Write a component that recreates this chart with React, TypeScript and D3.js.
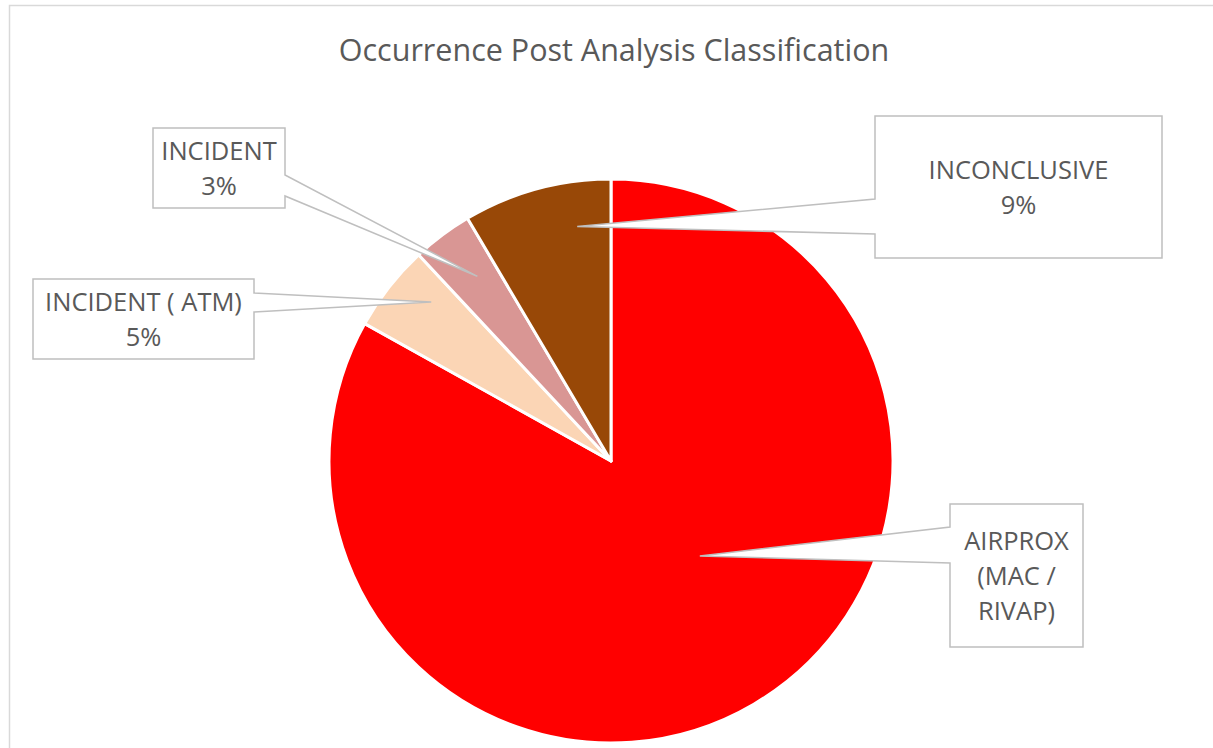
import React from "react";
import * as d3 from "d3";

const categories = ["AIRPROX (MAC / RIVAP)", "INCIDENT ( ATM)", "INCIDENT", "INCONCLUSIVE"];
const values = [83.1, 4.95, 3.45, 8.5];
const colors = ["#FF0000", "#FBD5B5", "#D99694", "#984807"];
const labelLines = [["AIRPROX", "(MAC /", "RIVAP)"], ["INCIDENT ( ATM)"], ["INCIDENT"], ["INCONCLUSIVE"]];
const showPercent = [false, true, true, true];
const title = "Occurrence Post Analysis Classification";

const W = 1213;
const H = 748;
const CX = 611;
const CY = 461;
const R = 282;
const FONT = "'Open Sans', sans-serif";
const TEXT = "#595959";
const LINE_H = 35;
const LABEL_FS = 25.5;

// callout layout: box, gap side & range, tip as polar (deg, radius)
const callouts = [
  { x: 950, y: 504, w: 133, h: 143, side: "left", g0: 527, g1: 563, ta: 136.9, tr: 130 },
  { x: 33, y: 279, w: 221, h: 80, side: "right", g0: 293, g1: 312, ta: 311.5, tr: 240 },
  { x: 153, y: 128, w: 132, h: 80, side: "right", g0: 175, g1: 196, ta: 324.1, tr: 228 },
  { x: 875, y: 116, w: 287, h: 142, side: "left", g0: 199, g1: 234, ta: 351.8, tr: 237 },
];

export default function App() {
  const total = d3.sum(values);
  const pie = d3.pie<number>().sort(null).value((d) => d)(values);
  const arc = d3.arc<d3.PieArcDatum<number>>().innerRadius(0).outerRadius(R);

  return (
    <svg width={W} height={H} style={{ position: "absolute", left: 0, top: 0, background: "#fff" }}>
      <rect x={9.5} y={5.5} width={W + 20} height={H + 20} fill="#fff" stroke="#d9d9d9" strokeWidth={1.5} />
      <text x={614} y={61} textAnchor="middle" fontFamily={FONT} fontSize={30.5} fill={TEXT}>
        {title}
      </text>
      <g transform={`translate(${CX},${CY})`}>
        {pie.map((p, i) => (
          <path key={i} d={arc(p) || ""} fill={colors[i]} stroke="#fff" strokeWidth={3} strokeLinejoin="round" />
        ))}
      </g>
      {callouts.map((c, i) => {
        const a = (c.ta * Math.PI) / 180;
        const tx = CX + c.tr * Math.sin(a);
        const ty = CY - c.tr * Math.cos(a);
        let d: string;
        if (c.side === "left") {
          d = `M${c.x},${c.y}H${c.x + c.w}V${c.y + c.h}H${c.x}V${c.g1}L${tx},${ty}L${c.x},${c.g0}Z`;
        } else {
          d = `M${c.x},${c.y}H${c.x + c.w}V${c.g0}L${tx},${ty}L${c.x + c.w},${c.g1}V${c.y + c.h}H${c.x}Z`;
        }
        const lines = [...labelLines[i]];
        if (showPercent[i]) lines.push(`${Math.round((values[i] / total) * 100)}%`);
        const cxText = c.x + c.w / 2;
        const cyText = c.y + c.h / 2;
        return (
          <g key={categories[i]}>
            <path d={d} fill="#fff" stroke="#bfbfbf" strokeWidth={1.5} strokeLinejoin="miter" />
            {lines.map((t, j) => (
              <text
                key={j}
                x={cxText}
                y={cyText + (j - (lines.length - 1) / 2) * LINE_H + 9}
                textAnchor="middle"
                fontFamily={FONT}
                fontSize={LABEL_FS}
                fill={TEXT}
              >
                {t}
              </text>
            ))}
          </g>
        );
      })}
    </svg>
  );
}
